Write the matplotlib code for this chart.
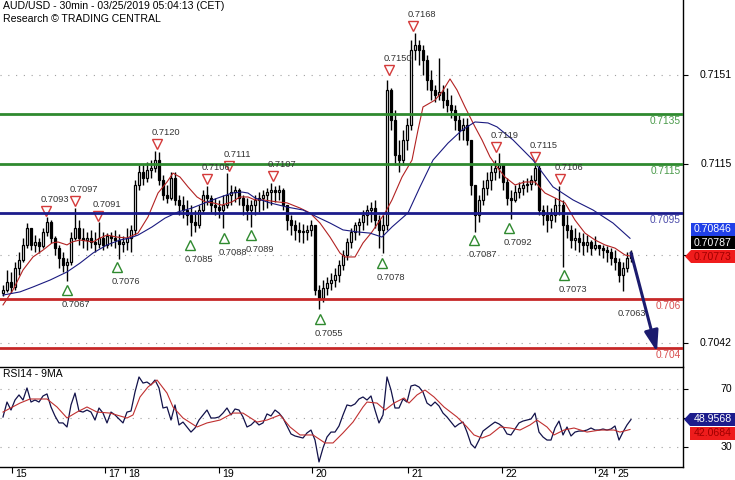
import matplotlib
matplotlib.use("Agg")
import matplotlib.pyplot as plt
import matplotlib.transforms as mtransforms
from matplotlib.patches import Polygon

plt.rcParams['font.family'] = ['Liberation Sans', 'DejaVu Sans']

W, H = 735, 480

title_lines = ["AUD/USD - 30min - 03/25/2019 05:04:13 (CET)", "Research \u00a9 TRADING CENTRAL"]
rsi_title = "RSI14 - 9MA"

# ---------------- price data (one bar per hour slot) ----------------
first_open = 0.70625
highs = [
    0.70656, 0.70717, 0.70709, 0.70749, 0.70790, 0.70847, 0.70908, 0.70888, 0.70859, 0.70847,
    0.70888, 0.70933, 0.70920, 0.70855, 0.70819, 0.70790, 0.70766, 0.70872, 0.70969, 0.70920,
    0.70888, 0.70872, 0.70880, 0.70872, 0.70912, 0.70872, 0.70867, 0.70872, 0.70880, 0.70863,
    0.70855, 0.70888, 0.70900, 0.71083, 0.71144, 0.71144, 0.71156, 0.71164, 0.71201, 0.71197,
    0.71103, 0.71063, 0.71116, 0.71116, 0.71022, 0.71018, 0.71002, 0.70981, 0.70961, 0.70981,
    0.71042, 0.71060, 0.71022, 0.71010, 0.71002, 0.71022, 0.71110, 0.71063, 0.71059, 0.71050,
    0.71022, 0.71010, 0.71002, 0.71022, 0.71034, 0.71042, 0.71050, 0.71071, 0.71059, 0.71063,
    0.71050, 0.70981, 0.70941, 0.70920, 0.70912, 0.70904, 0.70900, 0.70920, 0.70900, 0.70656,
    0.70676, 0.70689, 0.70705, 0.70725, 0.70758, 0.70798, 0.70847, 0.70888, 0.70912, 0.70928,
    0.70961, 0.70981, 0.70994, 0.71002, 0.70941, 0.70941, 0.71490, 0.71457, 0.71368, 0.71246,
    0.71286, 0.71335, 0.71652, 0.71681, 0.71652, 0.71632, 0.71591, 0.71530, 0.71469, 0.71579,
    0.71469, 0.71457, 0.71429, 0.71388, 0.71347, 0.71335, 0.71335, 0.71246, 0.71063, 0.71022,
    0.71083, 0.71116, 0.71144, 0.71164, 0.71193, 0.71144, 0.71091, 0.71042, 0.71063, 0.71075,
    0.71083, 0.71091, 0.71103, 0.71152, 0.71144, 0.70981, 0.70981, 0.70969, 0.71010, 0.71060,
    0.71002, 0.70941, 0.70900, 0.70888, 0.70872, 0.70867, 0.70859, 0.70839, 0.70855, 0.70819,
    0.70819, 0.70815, 0.70806, 0.70798, 0.70766, 0.70749, 0.70790, 0.70798,
]
lows = [
    0.70611, 0.70628, 0.70624, 0.70636, 0.70697, 0.70749, 0.70806, 0.70798, 0.70790, 0.70786,
    0.70806, 0.70855, 0.70827, 0.70778, 0.70725, 0.70709, 0.70672, 0.70737, 0.70839, 0.70819,
    0.70806, 0.70798, 0.70806, 0.70790, 0.70806, 0.70798, 0.70806, 0.70815, 0.70806, 0.70760,
    0.70790, 0.70798, 0.70790, 0.70859, 0.71042, 0.71063, 0.71075, 0.71091, 0.71116, 0.71063,
    0.71002, 0.70990, 0.71002, 0.70981, 0.70941, 0.70928, 0.70900, 0.70855, 0.70872, 0.70888,
    0.70953, 0.70981, 0.70953, 0.70941, 0.70928, 0.70888, 0.70969, 0.70981, 0.70994, 0.70981,
    0.70941, 0.70920, 0.70892, 0.70941, 0.70953, 0.70961, 0.70969, 0.70981, 0.70994, 0.71002,
    0.70961, 0.70880, 0.70859, 0.70839, 0.70831, 0.70827, 0.70839, 0.70855, 0.70615, 0.70560,
    0.70587, 0.70615, 0.70636, 0.70648, 0.70668, 0.70717, 0.70758, 0.70806, 0.70839, 0.70859,
    0.70880, 0.70900, 0.70912, 0.70888, 0.70806, 0.70786, 0.70880, 0.71286, 0.71144, 0.71116,
    0.71144, 0.71205, 0.71286, 0.71571, 0.71551, 0.71510, 0.71449, 0.71408, 0.71400, 0.71408,
    0.71376, 0.71360, 0.71335, 0.71286, 0.71246, 0.71246, 0.71225, 0.71022, 0.70872, 0.70912,
    0.70981, 0.71022, 0.71042, 0.71083, 0.71091, 0.71042, 0.70981, 0.70924, 0.70994, 0.71010,
    0.71022, 0.71034, 0.71042, 0.71063, 0.70941, 0.70900, 0.70872, 0.70888, 0.70912, 0.70941,
    0.70730, 0.70847, 0.70806, 0.70798, 0.70790, 0.70778, 0.70790, 0.70778, 0.70798, 0.70778,
    0.70766, 0.70749, 0.70737, 0.70717, 0.70668, 0.70630, 0.70709, 0.70749,
]
closes = [
    0.70636, 0.70668, 0.70648, 0.70725, 0.70758, 0.70819, 0.70888, 0.70819, 0.70831, 0.70815,
    0.70872, 0.70912, 0.70847, 0.70806, 0.70766, 0.70737, 0.70749, 0.70847, 0.70888, 0.70847,
    0.70839, 0.70847, 0.70831, 0.70823, 0.70847, 0.70819, 0.70855, 0.70847, 0.70839, 0.70823,
    0.70831, 0.70847, 0.70880, 0.71063, 0.71116, 0.71091, 0.71124, 0.71132, 0.71164, 0.71083,
    0.71022, 0.71010, 0.71091, 0.71002, 0.70981, 0.70961, 0.70941, 0.70912, 0.70900, 0.70961,
    0.71022, 0.71010, 0.70981, 0.70973, 0.70961, 0.70981, 0.71022, 0.71034, 0.71042, 0.71010,
    0.70981, 0.70961, 0.70981, 0.71002, 0.71010, 0.71022, 0.71034, 0.71042, 0.71034, 0.71042,
    0.70981, 0.70920, 0.70900, 0.70880, 0.70872, 0.70872, 0.70880, 0.70900, 0.70636, 0.70603,
    0.70644, 0.70664, 0.70676, 0.70697, 0.70737, 0.70778, 0.70831, 0.70872, 0.70900, 0.70912,
    0.70941, 0.70961, 0.70969, 0.70920, 0.70880, 0.70900, 0.71449, 0.71327, 0.71185, 0.71164,
    0.71246, 0.71307, 0.71612, 0.71632, 0.71612, 0.71571, 0.71490, 0.71449, 0.71429, 0.71441,
    0.71408, 0.71388, 0.71368, 0.71327, 0.71286, 0.71307, 0.71246, 0.71063, 0.70941, 0.71002,
    0.71050, 0.71083, 0.71116, 0.71132, 0.71144, 0.71075, 0.71010, 0.71002, 0.71034, 0.71050,
    0.71063, 0.71067, 0.71083, 0.71132, 0.70961, 0.70941, 0.70920, 0.70941, 0.70981, 0.70981,
    0.70900, 0.70880, 0.70839, 0.70847, 0.70831, 0.70819, 0.70831, 0.70806, 0.70819, 0.70806,
    0.70798, 0.70790, 0.70766, 0.70749, 0.70697, 0.70725, 0.70766, 0.70787,
]

# moving averages (bar position, value)
red_ma_pos = [0, 2.5, 5, 7.5, 10, 12.25, 13.75, 16, 17.25, 19.25, 22.5, 24.25, 26, 28.5, 31,
              33.75, 36.25, 38.75, 41, 42.5, 44.25, 46.25, 48.5, 50.5, 52.5, 54.75, 57.25, 59.25,
              61.25, 63, 65, 68.5, 71, 74.25, 76.75, 79.25, 81.75, 84.25, 85.5, 88, 90, 92.25,
              94.25, 95.5, 97.25, 99.75, 102.25, 103.75, 105, 108, 109.75, 111.75, 113.5, 115.5,
              118, 119.75, 121.75, 123.5, 125.5, 128, 130.5, 133, 135.5, 138, 140.5, 143, 145.5,
              148, 150.5, 153, 155.5, 157]
red_ma_val = [0.70575, 0.70636, 0.70717, 0.70770, 0.70798, 0.70827, 0.70831, 0.70819, 0.70831,
              0.70839, 0.70831, 0.70847, 0.70859, 0.70851, 0.70847, 0.70867, 0.70933, 0.71030,
              0.71075, 0.71111, 0.71095, 0.71055, 0.71014, 0.70994, 0.70990, 0.70981, 0.70994,
              0.71014, 0.71014, 0.71002, 0.71002, 0.70994, 0.70990, 0.70969, 0.70949, 0.70908,
              0.70851, 0.70786, 0.70770, 0.70770, 0.70827, 0.70872, 0.70920, 0.70949, 0.71002,
              0.71095, 0.71164, 0.71286, 0.71380, 0.71408, 0.71441, 0.71494, 0.71449, 0.71380,
              0.71299, 0.71246, 0.71177, 0.71136, 0.71095, 0.71063, 0.71075, 0.71075, 0.71030,
              0.71010, 0.70990, 0.70920, 0.70867, 0.70839, 0.70819, 0.70806, 0.70778, 0.70773]
blue_ma_pos = [0, 4.25, 7.5, 11.75, 16, 19.25, 22.5, 26, 29.25, 31.75, 33.75, 37.25, 40.5, 43.75,
               47.25, 50.5, 53.75, 57.25, 59.75, 61.25, 63, 66.75, 71, 75, 78.5, 81.75, 85, 88.5,
               91.75, 94.75, 97.25, 101.25, 104.25, 107.5, 111.25, 114.75, 118, 121.25, 123.5,
               127.5, 132.5, 137.5, 142.5, 147.5, 152.5, 156.75]
blue_ma_val = [0.70615, 0.70628, 0.70648, 0.70676, 0.70709, 0.70745, 0.70786, 0.70819, 0.70839,
               0.70847, 0.70859, 0.70892, 0.70928, 0.70953, 0.70969, 0.70990, 0.71010, 0.71030,
               0.71034, 0.71030, 0.71010, 0.70990, 0.70973, 0.70961, 0.70933, 0.70908, 0.70880,
               0.70872, 0.70867, 0.70851, 0.70892, 0.70949, 0.71055, 0.71164, 0.71233, 0.71286,
               0.71319, 0.71315, 0.71299, 0.71246, 0.71164, 0.71055, 0.71002, 0.70961, 0.70908,
               0.70846]

# ---------------- RSI panel ----------------
rsi = [
    50.7, 61.0, 55.5, 62.4, 65.9, 62.4, 70.7, 61.0, 62.4, 61.0,
    65.2, 66.6, 57.6, 51.4, 46.6, 46.6, 43.8, 59.0, 67.2, 54.8,
    54.1, 55.5, 54.1, 48.6, 56.9, 53.4, 46.6, 54.1, 52.1, 49.3,
    46.6, 54.1, 54.8, 67.9, 78.3, 74.1, 74.8, 72.8, 76.2, 70.7,
    56.9, 57.6, 48.6, 59.0, 45.2, 47.2, 43.8, 40.3, 43.1, 48.6,
    52.1, 55.5, 50.0, 50.0, 50.7, 53.4, 56.9, 52.1, 56.2, 55.5,
    50.7, 43.8, 45.2, 47.9, 45.2, 46.6, 52.8, 51.4, 55.5, 53.4,
    50.0, 44.5, 39.0, 37.6, 36.9, 36.2, 39.7, 41.7, 34.8, 19.7,
    29.3, 36.9, 40.3, 40.3, 44.5, 52.1, 59.0, 58.3, 59.7, 63.1,
    64.5, 62.4, 65.2, 55.5, 46.6, 52.1, 78.3, 69.3, 56.9, 56.9,
    63.1, 61.0, 72.1, 72.8, 71.4, 67.9, 60.3, 58.3, 61.0, 58.3,
    53.4, 50.7, 47.2, 43.8, 45.9, 47.2, 40.3, 32.1, 29.3, 34.8,
    41.0, 43.1, 45.2, 47.2, 45.9, 43.8, 39.0, 38.3, 42.4, 46.6,
    47.9, 48.6, 49.3, 53.4, 40.3, 36.9, 34.8, 34.8, 43.1, 47.9,
    38.3, 43.8, 37.6, 40.3, 41.0, 41.0, 41.7, 43.1, 41.7, 41.7,
    42.4, 41.7, 42.4, 44.5, 34.8, 40.3, 45.2, 48.9568,
]
rsi_ma_pos = [0, 4.25, 6.75, 11, 13.5, 16, 18.5, 21, 23.5, 26.75, 31, 32.5, 34.25, 36.25, 38.5,
              41, 42.5, 45, 48.5, 51, 54.25, 57.5, 60, 63.5, 66, 69.25, 71.75, 74.25, 77.5, 80.5,
              82.5, 85, 87.5, 90, 91, 93.5, 95.5, 97.75, 100.25, 101.5, 103.5, 105.5, 107.75,
              110.25, 113.5, 116, 117.75, 119.75, 121.75, 124.25, 126.75, 129.25, 131.75, 133.5,
              136, 137.75, 140.25, 142.75, 146, 149.25, 152.75, 154.25, 156.75]
rsi_ma_val = [54.1, 60.3, 63.1, 63.1, 57.6, 50.0, 54.1, 57.6, 54.1, 53.4, 50.0, 52.1, 64.5, 71.4,
              76.2, 67.2, 57.6, 50.0, 43.8, 46.6, 48.6, 53.4, 53.4, 47.2, 48.6, 52.1, 43.8, 38.3,
              38.3, 32.8, 32.8, 39.7, 47.2, 57.6, 61.0, 60.3, 55.5, 60.3, 63.8, 60.3, 65.9, 69.3,
              64.5, 57.6, 50.7, 43.8, 38.3, 36.2, 38.3, 43.8, 43.1, 41.7, 45.2, 48.6, 43.8, 38.3,
              41.7, 43.1, 40.3, 41.7, 41.7, 40.3, 42.0684]

# ---------------- annotations ----------------
level_values = [0.7135, 0.7115, 0.7095, 0.7060, 0.7040]
level_labels = ["0.7135", "0.7115", "0.7095", "0.706", "0.704"]
level_colors = ["#2f8a2f", "#2f8a2f", "#1c1c8c", "#c62828", "#c62828"]
level_text_colors = ["#4a9a4a", "#4a9a4a", "#4c4caa", "#d85050", "#d85050"]

high_pos = [10.75, 18, 23.75, 38.5, 51, 56.5, 67.5, 96.5, 102.5, 123.25, 133, 139.25]
high_vals = [0.7093, 0.7097, 0.7091, 0.7120, 0.7106, 0.7111, 0.7107, 0.7150, 0.7168, 0.7119, 0.7115, 0.7106]
low_pos = [16, 28.5, 46.75, 55.25, 62, 79.25, 94.75, 117.75, 126.5, 140.25]
low_vals = [0.7067, 0.7076, 0.7085, 0.7088, 0.7089, 0.7055, 0.7078, 0.7087, 0.7092, 0.7073]
extra_label_pos, extra_label_val = 155, 0.7063

arrow_start = (157, 0.70787)
arrow_end = (163.5, 0.70384)

price_ticks = [0.7151, 0.7115, 0.7078, 0.7042]
price_tick_labels = ["0.7151", "0.7115", "", "0.7042"]
rsi_ticks = [70, 50, 30]
rsi_tick_labels = ["70", "", "30"]

last_values = ["0.70846", "0.70787", "0.70773"]
rsi_last_values = ["48.9568", "42.0684"]

day_labels = ["15", "17", "18", "19", "20", "21", "22", "24", "25"]
day_pos = [2.25, 25.5, 30.5, 54, 77.25, 101.25, 124.75, 148, 152.75]

# ---------------- figure ----------------
fig = plt.figure(figsize=(W / 100, H / 100), dpi=100)
fig.patch.set_facecolor("white")
ax = fig.add_axes([0, 114 / H, 683 / W, 366 / H])
axr = fig.add_axes([0, 13 / H, 683 / W, 100 / H])

for a in (ax, axr):
    a.set_facecolor("white")
    a.spines["left"].set_visible(False)
    a.spines["right"].set_linewidth(1.0)
    a.set_xlim(-0.75, 170)
ax.spines["top"].set_visible(False)
ax.spines["bottom"].set_visible(False)
axr.spines["top"].set_linewidth(1.0)
axr.spines["bottom"].set_linewidth(1.0)

ax.set_ylim(0.703266, 0.718150)
axr.set_ylim(16.21, 85.17)

dots = (0, (1, 6))
for v in price_ticks:
    ax.axhline(v, color="#a0a0a0", lw=0.8, ls=dots, zorder=1)
for v in rsi_ticks:
    axr.axhline(v, color="#a0a0a0", lw=0.8, ls=dots, zorder=1)

# candles
n = len(closes)
idx = list(range(n))
opens = [first_open] + closes[:-1]
ax.vlines(idx, lows, highs, color="black", lw=1.0, zorder=2)
bottoms = [min(o, c) for o, c in zip(opens, closes)]
heights = [max(abs(c - o), 0.00002) for o, c in zip(opens, closes)]
faces = ["white" if c >= o else "black" for o, c in zip(opens, closes)]
ax.bar(idx, heights, bottom=bottoms, width=0.6, color=faces, edgecolor="black",
       linewidth=0.9, zorder=3)

# moving averages
ax.plot(red_ma_pos, red_ma_val, color="#b22222", lw=0.8, zorder=5)
ax.plot(blue_ma_pos, blue_ma_val, color="#1a1a80", lw=0.8, zorder=5)

# support / resistance levels
blend_ax = mtransforms.blended_transform_factory(ax.transAxes, ax.transData)
for v, col, tcol, lab in zip(level_values, level_colors, level_text_colors, level_labels):
    ax.axhline(v, color=col, lw=2.0, zorder=6)
    ax.annotate(lab, xy=(1, v), xycoords=blend_ax, xytext=(-2, -2), textcoords="offset pixels",
                ha="right", va="top", fontsize=7.3, color=tcol, zorder=7)

# swing markers
tr_up = mtransforms.offset_copy(ax.transData, fig=fig, x=0, y=7, units="dots")
tr_dn = mtransforms.offset_copy(ax.transData, fig=fig, x=0, y=-8, units="dots")
ax.plot(high_pos, high_vals, ls="none", marker="v", ms=7, mfc="none", mec="#d43a3a", mew=1.0,
        transform=tr_up, zorder=4)
ax.plot(low_pos, low_vals, ls="none", marker="^", ms=7, mfc="none", mec="#2f8a2f", mew=1.0,
        transform=tr_dn, zorder=4)
for p, v in zip(high_pos, high_vals):
    ax.annotate(f"{v:.4f}", xy=(p, v), xytext=(-5, 16), textcoords="offset pixels",
                ha="left", va="baseline", fontsize=6.7, color="#333333", zorder=8)
for p, v in zip(low_pos, low_vals):
    ax.annotate(f"{v:.4f}", xy=(p, v), xytext=(-5, -25), textcoords="offset pixels",
                ha="left", va="baseline", fontsize=6.7, color="#333333", zorder=8)
ax.annotate(f"{extra_label_val:.4f}", xy=(extra_label_pos, extra_label_val), xytext=(-5, -25),
            textcoords="offset pixels", ha="left", va="baseline", fontsize=6.7, color="#333333")

# projection arrow
ax.annotate("", xy=arrow_end, xytext=arrow_start,
            arrowprops=dict(arrowstyle="-|>,head_width=0.3,head_length=0.9", color="#1b1b6e",
                            lw=2.2, shrinkA=0, shrinkB=0, mutation_scale=14), zorder=9)

# RSI lines
axr.plot(idx, rsi, color="#12124a", lw=0.9, zorder=3)
axr.plot(rsi_ma_pos, rsi_ma_val, color="#c03030", lw=0.8, zorder=4)

# ticks
ax.set_xticks([])
ax.yaxis.tick_right()
ax.set_yticks(price_ticks)
ax.tick_params(axis="y", direction="out", length=3.6, width=0.8, labelright=False)
axr.yaxis.tick_right()
axr.set_yticks(rsi_ticks)
axr.tick_params(axis="y", direction="out", length=3.6, width=0.8, labelright=False)
axr.set_xticks(day_pos)
axr.set_xticklabels([])
axr.tick_params(axis="x", direction="out", length=4.3, width=0.8)

tr_main = mtransforms.blended_transform_factory(fig.transFigure, ax.transData)
for v, lab in zip(price_ticks, price_tick_labels):
    if lab:
        ax.text(732 / W, v, lab, transform=tr_main, ha="right", va="center", fontsize=7.6,
                clip_on=False)
tr_rsi = mtransforms.blended_transform_factory(fig.transFigure, axr.transData)
for v, lab in zip(rsi_ticks, rsi_tick_labels):
    if lab:
        axr.text(732 / W, v, lab, transform=tr_rsi, ha="right", va="center", fontsize=7.6,
                 clip_on=False)

blend_day = mtransforms.blended_transform_factory(axr.transData, axr.transAxes)
for p, lab in zip(day_pos, day_labels):
    axr.annotate(lab, xy=(p, 0), xycoords=blend_day, xytext=(3, -2), textcoords="offset pixels",
                 ha="left", va="top", fontsize=7.6, annotation_clip=False)


def px(x, y):
    return (x / W, 1 - y / H)


def fig_box(pts, color):
    fig.add_artist(Polygon([px(x, y) for x, y in pts], closed=True, transform=fig.transFigure,
                           facecolor=color, edgecolor="none", zorder=20))


fig_box([(691, 222.5), (735, 222.5), (735, 235.5), (691, 235.5)], "#2040e8")
fig_box([(691, 236), (735, 236), (735, 249), (691, 249)], "#000000")
fig_box([(685, 256.5), (691, 250), (735, 250), (735, 263), (691, 263)], "#f01c1c")
fig_box([(684, 419.5), (690, 413), (735, 413), (735, 426), (690, 426)], "#1c1c8c")
fig_box([(690, 427), (735, 427), (735, 440), (690, 440)], "#ee1c1c")

box_text = [(last_values[0], 229, "white"), (last_values[1], 242.5, "white"),
            (last_values[2], 256.5, "#a00000"), (rsi_last_values[0], 419.5, "white"),
            (rsi_last_values[1], 433.5, "#a00000")]
for txt, yy, col in box_text:
    fig.text(694 / W, 1 - yy / H, txt, color=col, fontsize=7.6, ha="left", va="center",
             zorder=21)

fig.text(3 / W, 1 - 1 / H, title_lines[0], fontsize=7.6, va="top", ha="left")
fig.text(3 / W, 1 - 14 / H, title_lines[1], fontsize=7.6, va="top", ha="left")
fig.text(3 / W, 1 - 369 / H, rsi_title, fontsize=7.5, va="top", ha="left")

fig.savefig("out.png", dpi=100)
